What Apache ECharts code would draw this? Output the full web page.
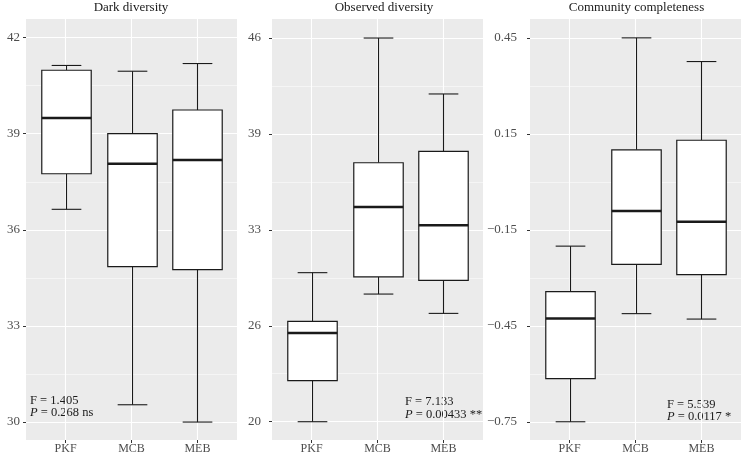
<!DOCTYPE html>
<html>
<head>
<meta charset="utf-8">
<script src="https://cdn.jsdelivr.net/npm/echarts@6/dist/echarts.min.js"></script>
<style>
  html, body { margin: 0; padding: 0; background: #fff; }
  #chart { width: 742px; height: 456px; }
</style>
</head>
<body>
<div id="chart"></div>
<script>
const categories = ['PKF', 'MCB', 'MEB'];

// per category: [lower whisker, Q1, median, Q3, upper whisker]
const darkStats = [
  [36.64, 37.75, 39.49, 40.98, 41.13],
  [30.54, 34.85, 38.06, 39.00, 40.95],
  [30.00, 34.76, 38.18, 39.74, 41.19]
];
const observedStats = [
  [20.00, 22.78, 26.01, 26.80, 30.10],
  [28.65, 29.81, 34.55, 37.55, 46.00],
  [27.34, 29.58, 33.31, 38.32, 42.21]
];
const completeStats = [
  [-0.750, -0.615, -0.427, -0.343, -0.201],
  [-0.412, -0.258, -0.091, 0.100, 0.450],
  [-0.429, -0.290, -0.125, 0.130, 0.376]
];

const darkTicks = [30, 33, 36, 39, 42];
const darkTickLabels = ['30', '33', '36', '39', '42'];
const observedTicks = [20, 26.5, 33, 39.5, 46];
const observedTickLabels = ['20', '26', '33', '39', '46'];
const completeTicks = [-0.75, -0.45, -0.15, 0.15, 0.45];
const completeTickLabels = ['\u22120.75', '\u22120.45', '\u22120.15', '0.15', '0.45'];

const darkRange = [29.44, 42.58];
const observedRange = [18.76, 47.29];
const completeRange = [-0.807, 0.509];

const darkNote = ['F = 1.405', '0.268 ns'];
const observedNote = ['F = 7.133', '0.00433 **'];
const completeNote = ['F = 5.539', '0.0117 *'];

const FONT = 'Liberation Serif';
const INK = '#1a1a1a';

const panels = [
  { title: 'Dark diversity', stats: darkStats, ticks: darkTicks, labels: darkTickLabels, range: darkRange,
    left: 26, titleX: 131, labelMargin: 6, note: darkNote, noteX: 30, noteY: 394 },
  { title: 'Observed diversity', stats: observedStats, ticks: observedTicks, labels: observedTickLabels, range: observedRange,
    left: 272, titleX: 384, labelMargin: 11, note: observedNote, noteX: 405, noteY: 395.5 },
  { title: 'Community completeness', stats: completeStats, ticks: completeTicks, labels: completeTickLabels, range: completeRange,
    left: 530, titleX: 636.5, labelMargin: 13, note: completeNote, noteX: 667, noteY: 398 }
];

function midpoints(t) {
  const m = [];
  for (let i = 0; i < t.length - 1; i++) m.push((t[i] + t[i + 1]) / 2);
  return m;
}

function renderBox(params, api) {
  const x = api.value(0);
  const pt = k => api.coord([x, api.value(k)]);
  const lo = pt(1), q1 = pt(2), md = pt(3), q3 = pt(4), hi = pt(5);
  const boxW = api.size([0.75, 0])[0];
  const capW = api.size([0.45, 0])[0];
  const cx = Math.round(lo[0]) + 0.5;
  const line = (x1, y1, x2, y2, w) => ({
    type: 'line', shape: { x1, y1, x2, y2 }, style: { stroke: INK, lineWidth: w }
  });
  return {
    type: 'group',
    children: [
      line(cx, hi[1], cx, q3[1], 1.1),
      line(cx, q1[1], cx, lo[1], 1.1),
      line(cx - capW / 2, hi[1], cx + capW / 2, hi[1], 1.1),
      line(cx - capW / 2, lo[1], cx + capW / 2, lo[1], 1.1),
      { type: 'rect', shape: { x: cx - boxW / 2, y: q3[1], width: boxW, height: q1[1] - q3[1] },
        style: { fill: '#fff', stroke: INK, lineWidth: 1.2 } },
      line(cx - boxW / 2, md[1], cx + boxW / 2, md[1], 2.4)
    ]
  };
}

const chart = echarts.init(document.getElementById('chart'));

const option = {
  animation: false,
  grid: panels.map(p => ({
    left: p.left, top: 19, width: 211, height: 421,
    show: true, backgroundColor: '#EBEBEB', borderWidth: 0
  })),
  xAxis: panels.map((p, i) => ({
    type: 'value', gridIndex: i, min: 0.4, max: 3.6,
    axisLine: { show: false, onZero: false },
    axisTick: { show: true, length: 3, customValues: [1, 2, 3], lineStyle: { color: '#333' } },
    axisLabel: {
      customValues: [1, 2, 3],
      formatter: v => categories[Math.round(v) - 1],
      color: '#4D4D4D', fontFamily: FONT, fontSize: 12, margin: 3
    },
    splitLine: { show: true, lineStyle: { color: '#fff', width: 1.1 } }
  })),
  yAxis: panels.map((p, i) => ({
    type: 'value', gridIndex: i, min: p.range[0], max: p.range[1],
    axisLine: { show: false, onZero: false },
    axisTick: { show: true, length: 3, customValues: p.ticks, lineStyle: { color: '#333' } },
    axisLabel: {
      customValues: p.ticks,
      formatter: v => p.labels[p.ticks.findIndex(t => Math.abs(t - v) < 1e-9)],
      color: '#4D4D4D', fontFamily: FONT, fontSize: 13, margin: p.labelMargin
    },
    splitLine: { show: true, lineStyle: { color: '#fff', width: 1.1 } }
  })).concat(panels.map((p, i) => ({
    type: 'value', gridIndex: i, min: p.range[0], max: p.range[1],
    axisLine: { show: false, onZero: false },
    axisTick: { show: false, customValues: midpoints(p.ticks) },
    axisLabel: { show: false },
    splitLine: { show: true, lineStyle: { color: '#fff', width: 0.5 } }
  }))),
  series: panels.map((p, i) => ({
    type: 'custom', xAxisIndex: i, yAxisIndex: i,
    renderItem: renderBox,
    encode: { x: 0, y: [1, 2, 3, 4, 5] },
    data: p.stats.map((s, j) => [j + 1].concat(s))
  })),
  graphic: panels.map(p => ({
    type: 'text', x: p.titleX, y: 1,
    style: {
      text: p.title, font: '13px "' + FONT + '"', fill: INK,
      textAlign: 'center', textVerticalAlign: 'top'
    }
  })).concat(panels.map(p => ({
    type: 'text', x: p.noteX, y: p.noteY,
    style: {
      text: p.note[0] + '\n{i|P} = ' + p.note[1],
      font: '12.5px "' + FONT + '"', fill: INK, lineHeight: 12.6,
      textAlign: 'left', textVerticalAlign: 'top',
      rich: { i: { font: 'italic 12.5px "' + FONT + '"', fill: INK, lineHeight: 12.6 } }
    }
  })))
};

chart.setOption(option);
</script>
</body>
</html>
